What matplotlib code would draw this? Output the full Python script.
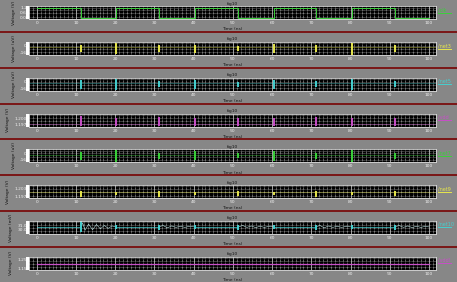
import matplotlib
matplotlib.use("Agg")
import matplotlib.pyplot as plt
import numpy as np
from matplotlib.lines import Line2D
from matplotlib.patches import Rectangle
from matplotlib.ticker import MultipleLocator

# ---- data ----
clk_t = [0, 11.2, 11.2, 20.3, 20.3, 31.1, 31.1, 40.3, 40.3, 51.4, 51.4,
         60.4, 60.4, 71.1, 71.1, 80.3, 80.3, 91.3, 91.3, 100]
clk_v = [1.2, 1.2, 0, 0, 1.2, 1.2, 0, 0, 1.2, 1.2, 0,
         0, 1.2, 1.2, 0, 0, 1.2, 1.2, 0, 0]

edge_t = [11.2, 20.3, 31.1, 40.3, 51.4, 60.4, 71.1, 80.3, 91.3]

# yellow trace (uV)
p2_base = -4
p2_lo = [-16, -20, -15, -17, -12, -18, -15, -21, -15]
p2_hi = [2, 6, 1, 3, 0, 4, 1, 6, 1]
# cyan trace (uV)
p3_base = -4
p3_lo = [-17, -20, -14, -17, -12, -18, -14, -21, -14]
p3_hi = [3, 7, 1, 4, 0, 4, 1, 7, 2]
# magenta trace (V)
p4_base = 1.1972
p4_lo = [1.1964, 1.1965, 1.1964, 1.1965, 1.1966, 1.1965, 1.1964, 1.1965, 1.1966]
p4_hi = [1.2008, 1.2002, 1.2004, 1.2002, 1.2001, 1.2003, 1.2004, 1.2002, 1.2001]
# green trace (uV)
p5_base = -4
p5_lo = [-16, -20, -15, -17, -12, -18, -15, -21, -15]
p5_hi = [2, 7, 1, 4, 0, 4, 1, 7, 1]
# yellow trace (V)
p6_base = 1.1998
p6_lo = [1.1966, 1.1975, 1.1966, 1.1974, 1.1968, 1.1975, 1.1966, 1.1974, 1.1968]
p6_hi = [1.2012, 1.2004, 1.2010, 1.2004, 1.2006, 1.2004, 1.2010, 1.2004, 1.2006]
# cyan trace (mV) with ringing after falling edges
p7_base = 30.6
p7_lo = [29.5, 30.2, 29.9, 30.2, 29.9, 30.2, 29.9, 30.2, 29.9]
p7_hi = [31.8, 31.0, 31.1, 31.0, 31.1, 31.0, 31.1, 31.0, 31.1]
ring_t = [11.2, 11.7, 12.3, 13.2, 14.2, 15.2, 16.2, 17.2, 18.2, 19.2, 20.3, np.nan,
          31.1, 32.2, 33.3, 34.4, 35.5, 36.6, 37.7, 38.8, 40.3, np.nan,
          51.4, 52.5, 53.6, 54.7, 55.8, 56.9, 58.0, 59.1, 60.4, np.nan,
          71.1, 72.2, 73.3, 74.4, 75.5, 76.6, 77.7, 78.8, 80.3, np.nan,
          91.3, 92.4, 93.5, 94.6, 95.7, 96.8, 97.9, 99.0, 100]
ring_v = [30.6, 31.4, 29.9, 31.2, 30.0, 31.1, 30.2, 30.9, 30.3, 30.8, 30.6, np.nan,
          30.6, 30.9, 30.4, 30.8, 30.5, 30.75, 30.5, 30.7, 30.6, np.nan,
          30.6, 30.9, 30.5, 30.8, 30.45, 30.75, 30.5, 30.7, 30.6, np.nan,
          30.6, 30.9, 30.4, 30.8, 30.5, 30.75, 30.5, 30.7, 30.6, np.nan,
          30.6, 30.9, 30.5, 30.8, 30.45, 30.75, 30.5, 30.7, 30.6]
# magenta supply (V)
p8_t = [0, 100]
p8_v = [1.2, 1.2]

# ---- look ----
BG = "#878787"
SEP = "#7a1515"
GREEN = "#3ad13a"
YELLOW = "#e6e64c"
CYAN = "#45cfcf"
MAGENTA = "#c84fc8"
TXT = "#151515"
TICK = "#f0f0f0"

W, H = 457, 282
fig = plt.figure(figsize=(W / 100, H / 100), dpi=100, facecolor=BG)

panels = [
    dict(color=GREEN, unit="V", ylim=(-0.15, 1.38), yt=[0.0, 0.6, 1.2], ytl=["0.0", "0.6", "1.2"], name="/clk"),
    dict(color=YELLOW, unit="uV", ylim=(-22, 9), yt=[0, -16], ytl=["0", "-16"], name="/net3"),
    dict(color=CYAN, unit="uV", ylim=(-22, 9), yt=[0, -16], ytl=["0", "-16"], name="/net5"),
    dict(color=MAGENTA, unit="V", ylim=(1.1962, 1.2021), yt=[1.200, 1.197], ytl=["1.200", "1.197"], name="/vdd"),
    dict(color=GREEN, unit="uV", ylim=(-22, 9), yt=[0, -16], ytl=["0", "-16"], name="/net7"),
    dict(color=YELLOW, unit="V", ylim=(1.1953, 1.2054), yt=[1.203, 1.197], ytl=["1.203", "1.197"], name="/net9"),
    dict(color=CYAN, unit="mV", ylim=(29.1, 31.85), yt=[31.0, 30.0], ytl=["31.0", "30.0"], name="/net10"),
    dict(color=MAGENTA, unit="V", ylim=(1.13, 1.285), yt=[1.25, 1.15], ytl=["1.25", "1.15"], name="/vdd!"),
]

spikes = [None,
          (p2_base, p2_lo, p2_hi),
          (p3_base, p3_lo, p3_hi),
          (p4_base, p4_lo, p4_hi),
          (p5_base, p5_lo, p5_hi),
          (p6_base, p6_lo, p6_hi),
          (p7_base, p7_lo, p7_hi),
          None]

step = 35.8
x0, x1 = 29, 436
for i, p in enumerate(panels):
    top = 6.2 + step * i
    bot = top + 13
    ax = fig.add_axes([x0 / W, 1 - bot / H, (x1 - x0) / W, 13 / H])
    ax.set_facecolor("black")
    ax.set_xlim(-2, 101.8)
    ax.set_ylim(*p["ylim"])

    # grid
    ax.xaxis.set_major_locator(MultipleLocator(10))
    ax.xaxis.set_minor_locator(MultipleLocator(1))
    ax.grid(which="major", axis="x", color="#e0e0e0", lw=0.5, ls="-")
    ax.grid(which="minor", axis="x", color="#c8c8c8", lw=0.5, ls=(0, (1, 1)))
    ax.set_yticks(p["yt"])
    ax.set_yticklabels(p["ytl"])
    y_lo, y_hi = p["ylim"]
    for f in [0.2, 0.45, 0.7, 0.9]:
        ax.axhline(y_lo + f * (y_hi - y_lo), color="#c8c8c8", lw=0.4, ls=(0, (1, 1.2)))

    c = p["color"]
    if i == 0:
        ax.plot(clk_t, clk_v, color=c, lw=0.7)
    elif i == 7:
        ax.plot(p8_t, p8_v, color=c, lw=0.9)
    else:
        base, lo, hi = spikes[i]
        if i == 6:
            ax.plot(ring_t, ring_v, color="#bfe8e8", lw=0.4)
            ax.plot([0, 11.2], [base, base], color=c, lw=0.5)
            ax.plot([20.3, 31.1], [base, base], color=c, lw=0.5)
            ax.plot([40.3, 51.4], [base, base], color=c, lw=0.5)
            ax.plot([60.4, 71.1], [base, base], color=c, lw=0.5)
            ax.plot([80.3, 91.3], [base, base], color=c, lw=0.5)
        else:
            ax.axhline(base, color=c, lw=0.4, alpha=0.7)
        ax.vlines(edge_t, lo, hi, color=c, lw=1.4)

    # axes styling
    for s in ax.spines.values():
        s.set_color("#d8d8d8")
        s.set_linewidth(0.6)
    ax.tick_params(axis="both", which="both", length=0, colors=TICK, labelsize=3.2, pad=1.5)
    ax.set_ylabel("Voltage (%s)" % p["unit"], fontsize=3.2, color=TXT, labelpad=3)
    ax.set_xlabel("Time (ns)", fontsize=3.2, color=TXT, labelpad=1.5)
    ax.set_title("fig10", fontsize=3.2, color=TXT, pad=1.2)

    # left white marker bar
    fig.add_artist(Rectangle((26 / W, 1 - bot / H), 3.5 / W, 13 / H,
                             transform=fig.transFigure, color="white", lw=0))

    # legend label on the right
    fig.text(438 / W, 1 - (top + 3.5) / H, p["name"], color=c, fontsize=3.5, va="center", ha="left")
    fig.add_artist(Line2D([438 / W, 451 / W], [1 - (top + 6.5) / H] * 2,
                          transform=fig.transFigure, color=c, lw=0.7))

    # red separator under each panel
    if i < 7:
        ys = 1 - (32 + step * i) / H
        fig.add_artist(Line2D([0, 1], [ys, ys], transform=fig.transFigure, color=SEP, lw=1.4))

fig.savefig("out.png", dpi=100, facecolor=BG)
